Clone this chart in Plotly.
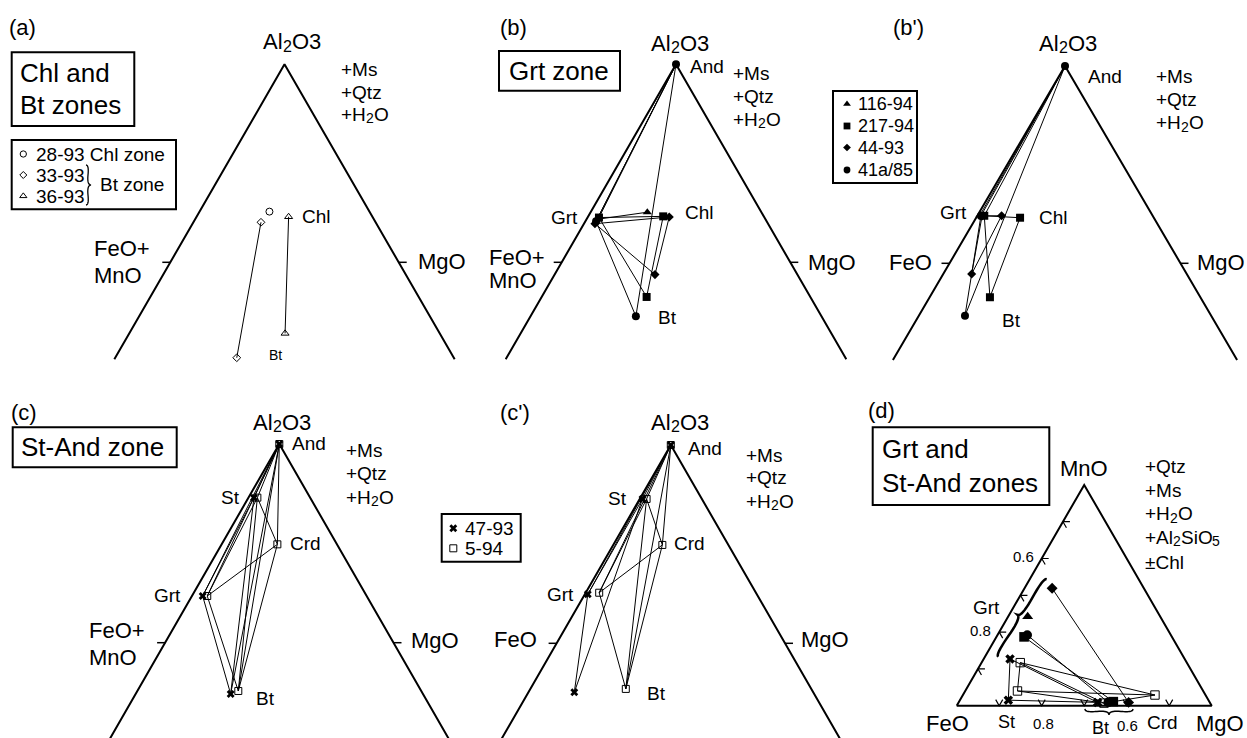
import math
import plotly.graph_objects as go

W, H = 1247, 738
FONT = "Liberation Sans, Arial, Helvetica, sans-serif"

# ---------------- data ----------------
# AFM projections: each phase as (A, M); F = 1 - A - M
AND_AFM = (1.0, 0.0)

# (a) Chl and Bt zones
A_28_93 = {"Chl": (0.256, 0.306)}
A_33_93 = {"Chl": (0.202, 0.296), "Bt": (-0.482, 0.532)}
A_36_93 = {"Chl": (0.230, 0.403), "Bt": (-0.359, 0.682)}

# (b) Grt zone, F = FeO+MnO
B_116_94 = {"Grt": (0.217, 0.046), "Chl": (0.253, 0.248)}
B_217_94 = {"Grt": (0.226, 0.050), "Chl": (0.232, 0.328), "Bt": (-0.175, 0.459)}
B_44_93 = {"Grt": (0.195, 0.048), "Chl": (0.229, 0.356), "Bt": (-0.062, 0.439)}
B_41a_85 = {"And": (1.0, 0.0), "Grt": (0.207, 0.047), "Bt": (-0.273, 0.461)}

# (b') Grt zone, F = FeO
BP_116_94 = {"Grt": (0.245, 0.010)}
BP_217_94 = {"Grt": (0.241, 0.030), "Chl": (0.231, 0.190), "Bt": (-0.172, 0.261)}
BP_44_93 = {"Grt": (0.240, 0.021), "Chl": (0.241, 0.105), "Bt": (-0.054, 0.123)}
BP_41a_85 = {"And": (1.0, 0.0), "Grt": (0.240, 0.016), "Bt": (-0.266, 0.200)}

# (c) St-And zone, F = FeO+MnO
C_47_93 = {"And": (1.0, 0.0), "St": (0.730, 0.024), "Grt": (0.235, 0.047), "Bt": (-0.258, 0.416)}
C_5_94 = {"And": (1.0, 0.0), "St": (0.730, 0.039), "Crd": (0.495, 0.244),
          "Grt": (0.235, 0.067), "Bt": (-0.243, 0.442)}
# (c') St-And zone, F = FeO
CP_47_93 = {"And": (1.0, 0.0), "St": (0.728, 0.012), "Grt": (0.247, 0.013), "Bt": (-0.247, 0.201)}
CP_5_94 = {"And": (1.0, 0.0), "St": (0.728, 0.030), "Crd": (0.496, 0.215),
           "Grt": (0.255, 0.059), "Bt": (-0.230, 0.418)}

# (d) MnO-FeO-MgO: each phase as (XMn, XMg)
D_116_94 = {"Grt": (0.242, 0.046)}
D_217_94 = {"Grt": (0.187, 0.065), "Bt": (0.011, 0.363)}
D_44_93 = {"Grt": (0.319, 0.065), "Bt": (0.009, 0.400)}
D_41a_85 = {"Grt": (0.192, 0.070), "Bt": (0.009, 0.352)}
D_47_93 = {"Grt": (0.127, 0.062), "St": (0.015, 0.114), "Bt": (0.009, 0.327)}
D_5_94 = {"Grt": (0.117, 0.091), "St": (0.040, 0.123), "Crd": (0.029, 0.452), "Bt": (0.007, 0.343)}
D_TICKS_XFE = [0.9, 0.8, 0.7, 0.6, 0.5]
D_SCALE = 0.6   # triangle spans XFe 1.0 -> 0.4

# tie lines
T_ABT = [("Chl", "Bt")]
T_GCB = [("Grt", "Chl"), ("Grt", "Bt"), ("Chl", "Bt")]
T_C5 = [("And", "St"), ("And", "Grt"), ("And", "Crd"), ("And", "Bt"), ("St", "Crd"),
        ("St", "Grt"), ("St", "Bt"), ("Crd", "Grt"), ("Crd", "Bt"), ("Grt", "Bt")]
TIES_A = {"33-93": T_ABT, "36-93": T_ABT}
TIES_B = {"116-94": [("And", "Grt"), ("Grt", "Chl")],
          "217-94": [("And", "Grt")] + T_GCB,
          "44-93": T_GCB,
          "41a/85": [("And", "Grt"), ("And", "Bt"), ("Grt", "Bt")]}
TIES_BP = {"116-94": [("And", "Grt")],
           "217-94": [("And", "Grt")] + T_GCB,
           "44-93": T_GCB,
           "41a/85": [("And", "Grt"), ("And", "Bt"), ("Grt", "Bt")]}
TIES_C = {"47-93": [("And", "St"), ("And", "Grt"), ("And", "Bt"), ("St", "Grt"), ("St", "Bt"), ("Grt", "Bt")],
          "5-94": T_C5}
TIES_CP = {"47-93": [("And", "St"), ("And", "Grt"), ("St", "Grt"), ("Grt", "Bt"), ("St", "Bt")],
           "5-94": T_C5}
TIES_D = {"217-94": [("Grt", "Bt")], "44-93": [("Grt", "Bt")], "41a/85": [("Grt", "Bt")],
          "47-93": [("Grt", "St"), ("Grt", "Bt"), ("St", "Bt")],
          "5-94": [("Grt", "St"), ("Grt", "Bt"), ("Grt", "Crd"), ("St", "Crd"), ("St", "Bt"), ("Crd", "Bt")]}

# ---------------- geometry (pixel layout of each panel) ----------------
# Fx: pixel x of F corner (A=0); s: px per unit x; yb: pixel y of A=0 line; h: px per unit A
GEOM = {
    "a":  dict(Fx=170.3, s=228.4, yb=262.3, h=198.0, box=(0, 480, 0, 369), abot=-0.49),
    "b":  dict(Fx=561.7, s=228.6, yb=262.3, h=198.0, box=(480, 862, 0, 369), abot=-0.49),
    "bp": dict(Fx=949.5, s=231.0, yb=263.3, h=197.3, box=(862, 1247, 0, 369), abot=-0.49),
    "c":  dict(Fx=165.1, s=228.4, yb=642.7, h=198.7, box=(0, 450, 369, 738), abot=-0.5),
    "cp": dict(Fx=556.6, s=228.4, yb=643.3, h=198.3, box=(450, 860, 369, 738), abot=-0.5),
    "d":  dict(Fx=956.7, s=255.0, yb=705.7, h=220.8, box=(860, 1247, 369, 738)),
}
ORDER = ["a", "b", "bp", "c", "cp", "d"]
SUF = {k: ("" if i == 0 else str(i + 1)) for i, k in enumerate(ORDER)}


def afm(A, M):
    return M + A / 2.0, A


def mfm(Mn, Mg):
    return (Mg + Mn / 2.0) / D_SCALE, Mn / D_SCALE


def pix2data(key, px, py):
    g = GEOM[key]
    return (px - g["Fx"]) / g["s"], (g["yb"] - py) / g["h"]


STY = {
    "28-93": ("circle-open", 7), "33-93": ("diamond-open", 6), "36-93": ("triangle-up-open", 7),
    "116-94": ("triangle-up", 8), "217-94": ("square", 8), "44-93": ("diamond", 7),
    "41a/85": ("circle", 8), "47-93": ("x", 7), "5-94": ("square-open", 7),
}

fig = go.Figure()
layout = dict(width=W, height=H, margin=dict(l=0, r=0, t=0, b=0),
              paper_bgcolor="white", plot_bgcolor="rgba(0,0,0,0)", showlegend=False)

for key in ORDER:
    g = GEOM[key]
    x0, x1, y0, y1 = g["box"]
    suf = SUF[key]
    layout["xaxis" + suf] = dict(domain=[x0 / W, x1 / W], range=[(x0 - g["Fx"]) / g["s"], (x1 - g["Fx"]) / g["s"]],
                                 visible=False, fixedrange=True, anchor="y" + suf)
    layout["yaxis" + suf] = dict(domain=[1 - y1 / H, 1 - y0 / H], range=[(g["yb"] - y1) / g["h"], (g["yb"] - y0) / g["h"]],
                                 visible=False, fixedrange=True, anchor="x" + suf)


def add_line(key, xs, ys, width=1.0):
    suf = SUF[key]
    fig.add_trace(go.Scatter(x=xs, y=ys, mode="lines", line=dict(color="black", width=width),
                             hoverinfo="skip", xaxis="x" + suf, yaxis="y" + suf))


def add_marks(key, xs, ys, sample, scale=1.0):
    sym, size = STY[sample]
    suf = SUF[key]
    opn = sym.endswith("open")
    fig.add_trace(go.Scatter(x=xs, y=ys, mode="markers", cliponaxis=False, hoverinfo="skip",
                             marker=dict(symbol=sym, size=size * scale, color="black",
                                         line=dict(color="black", width=1 if opn else 0)),
                             xaxis="x" + suf, yaxis="y" + suf))


def draw_panel(key, samples, ties, proj, scale=1.0):
    xs, ys = [], []
    for name, pairs in ties.items():
        comp = samples[name]
        for p, q in pairs:
            for ph in (p, q):
                v = comp.get(ph, AND_AFM)
                X, Y = proj(*v)
                xs.append(X)
                ys.append(Y)
            xs.append(None)
            ys.append(None)
    add_line(key, xs, ys, 1.0)
    for name, comp in samples.items():
        pts = [proj(*v) for v in comp.values()]
        add_marks(key, [p[0] for p in pts], [p[1] for p in pts], name, scale)


# triangle frames for AFM panels
for key in ["a", "b", "bp", "c", "cp"]:
    g = GEOM[key]
    ab = g["abot"]
    add_line(key, [ab / 2, 0.5, 1 - ab / 2], [ab, 1.0, ab], 2.0)
    t = 8.0 / g["s"]
    add_line(key, [0, -t, None, 1, 1 + t], [0, 0, None, 0, 0], 1.5)

# triangle for (d) with chevron ticks
add_line("d", [0, 0.5, 1, 0], [0, 1, 0, 0], 2.0)
gd = GEOM["d"]
L = 7.0
tx, ty = [], []
for xfe in D_TICKS_XFE:
    X, Y = mfm(1 - xfe, 0.0)      # left edge (Mg = 0)
    tx += [X + L / gd["s"], X, X + 0.5 * L / gd["s"], None]
    ty += [Y, Y, Y - 0.866 * L / gd["h"], None]
    X, Y = mfm(0.0, 1 - xfe)      # bottom edge (Mn = 0)
    tx += [X - 0.5 * L / gd["s"], X, X + 0.5 * L / gd["s"], None]
    ty += [Y + 0.866 * L / gd["h"], Y, Y + 0.866 * L / gd["h"], None]
add_line("d", tx, ty, 1.2)

draw_panel("a", {"28-93": A_28_93, "33-93": A_33_93, "36-93": A_36_93}, TIES_A, afm)
draw_panel("b", {"116-94": B_116_94, "217-94": B_217_94, "44-93": B_44_93, "41a/85": B_41a_85}, TIES_B, afm)
draw_panel("bp", {"116-94": BP_116_94, "217-94": BP_217_94, "44-93": BP_44_93, "41a/85": BP_41a_85}, TIES_BP, afm)
draw_panel("c", {"5-94": C_5_94, "47-93": C_47_93}, TIES_C, afm)
draw_panel("cp", {"5-94": CP_5_94, "47-93": CP_47_93}, TIES_CP, afm)
draw_panel("d", {"47-93": D_47_93, "5-94": D_5_94, "217-94": D_217_94, "41a/85": D_41a_85,
                 "116-94": D_116_94, "44-93": D_44_93}, TIES_D, mfm, scale=1.2)

# legend glyphs
for smp, (px, py) in [("28-93", (23.3, 154)), ("33-93", (23.3, 175)), ("36-93", (23.3, 196))]:
    X, Y = pix2data("a", px, py)
    add_marks("a", [X], [Y], smp, 0.9)
for smp, (px, py) in [("116-94", (847, 104)), ("217-94", (847, 126)), ("44-93", (847, 147.5)), ("41a/85", (847, 170))]:
    X, Y = pix2data("b", px, py)
    add_marks("b", [X], [Y], smp, 0.85)
for smp, (px, py) in [("47-93", (453.3, 528.3)), ("5-94", (453.3, 548.3))]:
    X, Y = pix2data("cp", px, py)
    add_marks("cp", [X], [Y], smp, 1.0)

# ---------------- shapes: boxes and braces ----------------
shapes = []


def rect(x0, y0, x1, y1):
    shapes.append(dict(type="rect", xref="paper", yref="paper", x0=x0 / W, x1=x1 / W,
                       y0=1 - y1 / H, y1=1 - y0 / H, line=dict(color="black", width=2)))


rect(11.7, 52.3, 134.3, 126)
rect(11.7, 140, 176, 209.3)
rect(499, 51, 620, 90.7)
rect(833, 91, 917, 183)
rect(12.7, 427.3, 176.7, 467.3)
rect(441.7, 514, 520.7, 561.7)
rect(872.7, 427.3, 1049.3, 505)


def qbez(p0, c, p1, n=10):
    out = []
    for i in range(n + 1):
        t = i / n
        out.append(((1 - t) ** 2 * p0[0] + 2 * (1 - t) * t * c[0] + t * t * p1[0],
                    (1 - t) ** 2 * p0[1] + 2 * (1 - t) * t * c[1] + t * t * p1[1]))
    return out


def brace(p0, p1, w, width, q=0.6):
    x1, y1 = p0
    x2, y2 = p1
    dx, dy = x1 - x2, y1 - y2
    Ln = math.hypot(dx, dy)
    dx /= Ln
    dy /= Ln
    q1 = (x1 + q * w * dy, y1 - q * w * dx)
    q2 = (x1 - .25 * Ln * dx + (1 - q) * w * dy, y1 - .25 * Ln * dy - (1 - q) * w * dx)
    t1 = (x1 - .5 * Ln * dx + w * dy, y1 - .5 * Ln * dy - w * dx)
    q3 = (x2 + q * w * dy, y2 - q * w * dx)
    q4 = (x1 - .75 * Ln * dx + (1 - q) * w * dy, y1 - .75 * Ln * dy - (1 - q) * w * dx)
    c2 = (2 * q2[0] - q1[0], 2 * q2[1] - q1[1])
    c4 = (2 * q4[0] - q3[0], 2 * q4[1] - q3[1])
    h1 = qbez(p0, q1, q2) + qbez(q2, c2, t1)[1:]
    h2 = qbez(p1, q3, q4) + qbez(q4, c4, t1)[1:]
    pts = h1 + h2[::-1][1:]
    path = "M " + " L ".join(f"{x / W:.5f},{1 - y / H:.5f}" for x, y in pts)
    shapes.append(dict(type="path", xref="paper", yref="paper", path=path,
                       line=dict(color="black", width=width)))


brace((86, 205), (86, 165), 5, 1.3)
brace((1085, 709), (1133, 709), 6, 1.5)
brace((1046.7, 579.3), (998.3, 656.7), 6, 2.5)
layout["shapes"] = shapes

# ---------------- texts ----------------
anns = []


def txt(s, x, y, size, anc="left"):
    anns.append(dict(text=s, x=x / W, y=1 - y / H, xref="paper", yref="paper", showarrow=False,
                     xanchor=anc, yanchor="middle", borderpad=0, borderwidth=0,
                     font=dict(family=FONT, size=size, color="black")))


# Arial / Liberation Sans advance widths (per 1000 em) for formula pieces
CW = {"A": 667, "l": 222, "O": 778, "3": 556, "2": 556, "+": 584, "H": 722, "S": 667, "i": 222, "5": 556}


def tw(s, size):
    return sum(CW[c] for c in s) * size / 1000.0


def formula(pieces, x, y, size, anc="left"):
    """pieces: list of (text, is_subscript). Subscripts drawn smaller and lowered."""
    ss = round(size * 0.72)
    total = sum(tw(p, ss if sub else size) for p, sub in pieces)
    cx = x - total / 2 if anc == "center" else x
    for p, sub in pieces:
        if sub:
            txt(p, cx, y + 0.35 * size + 0.12 * size - 0.35 * ss, ss)
            cx += tw(p, ss)
        else:
            txt(p, cx, y, size)
            cx += tw(p, size)


AL2O3 = [("Al", False), ("2", True), ("O3", False)]
H2O = [("+H", False), ("2", True), ("O", False)]
AL2SIO5 = [("+Al", False), ("2", True), ("SiO", False), ("5", True)]

TXT = [
    # (a)
    ("(a)", 9, 28, 22, "left"), ("Chl and", 20, 73, 26, "left"), ("Bt zones", 20, 105, 26, "left"),
    ("28-93 Chl zone", 36, 154, 19, "left"), ("33-93", 36, 175, 19, "left"), ("36-93", 36, 196, 19, "left"),
    ("Bt zone", 100, 185, 19, "left"),
    ("+Ms", 341, 69, 19, "left"), ("+Qtz", 341, 92, 19, "left"),
    ("FeO+", 94, 248, 22, "left"), ("MnO", 94, 275, 22, "left"), ("MgO", 418, 261, 22, "left"),
    ("Chl", 302, 216, 19, "left"), ("Bt", 269, 355, 14, "left"),
    # (b)
    ("(b)", 500, 28, 22, "left"), ("Grt zone", 509, 71, 26, "left"),
    ("And", 690, 66, 19, "left"),
    ("+Ms", 733, 73, 19, "left"), ("+Qtz", 733, 96, 19, "left"),
    ("Grt", 551, 218, 19, "left"), ("Chl", 685, 213, 19, "left"), ("Bt", 658, 317, 19, "left"),
    ("FeO+", 489, 257, 22, "left"), ("MnO", 489, 280, 22, "left"), ("MgO", 808, 262, 22, "left"),
    ("116-94", 858, 104, 18, "left"), ("217-94", 858, 126, 18, "left"),
    ("44-93", 858, 147.5, 18, "left"), ("41a/85", 858, 170, 18, "left"),
    # (b')
    ("(b')", 893, 28, 22, "left"), ("And", 1088, 76, 19, "left"),
    ("+Ms", 1156, 77, 19, "left"), ("+Qtz", 1156, 100, 19, "left"),
    ("FeO", 889, 262, 22, "left"), ("MgO", 1197, 262, 22, "left"),
    ("Grt", 940, 213, 19, "left"), ("Chl", 1039, 217, 19, "left"), ("Bt", 1002, 320, 19, "left"),
    # (c)
    ("(c)", 11, 412, 22, "left"), ("St-And zone", 21, 447, 26, "left"),
    ("And", 292, 443, 19, "left"),
    ("+Ms", 346, 450, 19, "left"), ("+Qtz", 346, 473, 19, "left"),
    ("St", 221, 497, 19, "left"), ("Crd", 290, 543, 19, "left"), ("Grt", 154, 595, 19, "left"),
    ("Bt", 256, 698, 19, "left"),
    ("FeO+", 89, 630, 22, "left"), ("MnO", 89, 657, 22, "left"), ("MgO", 411, 640, 22, "left"),
    # (c')
    ("(c')", 500, 412, 22, "left"), ("And", 688, 448, 19, "left"),
    ("+Ms", 746, 455, 19, "left"), ("+Qtz", 746, 477, 19, "left"),
    ("St", 608, 498, 19, "left"), ("Crd", 674, 543, 19, "left"), ("Grt", 547, 594, 19, "left"),
    ("Bt", 647, 693, 19, "left"),
    ("FeO", 494, 639, 22, "left"), ("MgO", 801, 639, 22, "left"),
    ("47-93", 465, 528.3, 19, "left"), ("5-94", 465, 548.3, 19, "left"),
    # (d)
    ("(d)", 868, 410, 22, "left"), ("Grt and", 882, 449, 26, "left"), ("St-And zones", 882, 483, 26, "left"),
    ("MnO", 1084, 468, 22, "center"),
    ("+Qtz", 1145, 467, 19, "left"), ("+Ms", 1145, 490.5, 19, "left"), ("±Chl", 1145, 562.5, 19, "left"),
    ("FeO", 926, 723, 22, "left"), ("MgO", 1196, 723, 22, "left"),
    ("St", 998, 722, 18, "left"), ("0.8", 1033, 723, 15, "left"), ("Bt", 1092, 728, 18, "left"),
    ("0.6", 1117, 725, 15, "left"), ("Crd", 1147, 722, 19, "left"),
    ("0.6", 1013, 556, 15, "left"), ("0.8", 970, 630, 15, "left"), ("Grt", 973, 607, 19, "left"),
]
for s, x, y, size, anc in TXT:
    txt(s, x, y, size, anc)

FORMULAS = [
    (AL2O3, 292, 42, 22, "center"), (AL2O3, 680, 43, 22, "center"), (AL2O3, 1068, 43, 22, "center"),
    (AL2O3, 282, 422, 22, "center"), (AL2O3, 680, 422, 22, "center"),
    (H2O, 341, 114, 19, "left"), (H2O, 733, 119, 19, "left"), (H2O, 1156, 123, 19, "left"),
    (H2O, 346, 497, 19, "left"), (H2O, 746, 501, 19, "left"), (H2O, 1145, 513.5, 19, "left"),
    (AL2SIO5, 1145, 537, 19, "left"),
]
for pcs, x, y, size, anc in FORMULAS:
    formula(pcs, x, y, size, anc)

layout["annotations"] = anns

fig.update_layout(**layout)
fig.write_html("out.html", include_plotlyjs=True, config={"displayModeBar": False})
